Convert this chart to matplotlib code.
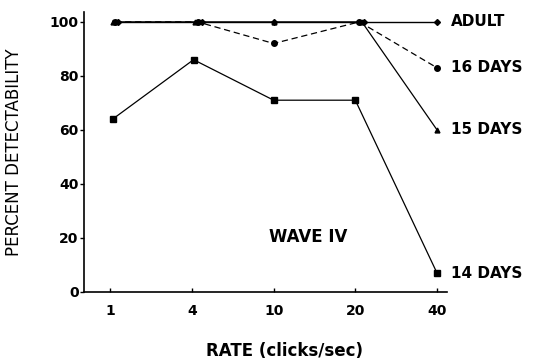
import matplotlib
matplotlib.use("Agg")
import matplotlib.pyplot as plt

plt.rcParams['font.family'] = ['DejaVu Sans']

rates = ["1", "4", "10", "20", "40"]
adult = [100, 100, 100, 100, 100]
days16 = [100, 100, 92, 100, 83]
days15 = [100, 100, 100, 100, 60]
days14 = [64, 86, 71, 71, 7]
labels = ["ADULT", "16 DAYS", "15 DAYS", "14 DAYS"]

fig = plt.figure(figsize=(5.39, 3.6), dpi=100)
ax = fig.add_axes([0.156, 0.189, 0.673, 0.778])

x = list(range(len(rates)))
# small horizontal offsets like in the hand-drawn original
xa = [i + d for i, d in zip(x, [0.1, 0.12, 0.0, 0.11, 0.0])]
x16 = [i + d for i, d in zip(x, [0.06, 0.07, 0.0, 0.05, 0.0])]
x15 = [i + d for i, d in zip(x, [0.03, 0.04, 0.0, 0.08, 0.0])]
x14 = [i + d for i, d in zip(x, [0.03, 0.02, 0.0, 0.0, 0.0])]

ax.plot(xa, adult, color='black', lw=1.0, marker='D', ms=3)
ax.plot(x16, days16, color='black', lw=0.9, ls=(0, (5, 3)), marker='o', ms=4)
ax.plot(x15, days15, color='black', lw=0.9, marker='^', ms=3.5)
ax.plot(x14, days14, color='black', lw=0.9, marker='s', ms=4.5)

ax.set_xlim(-0.32, 4.12)
ax.set_ylim(0, 103.7)
ax.set_xticks(x)
ax.set_xticklabels(rates, fontsize=10, fontweight='bold')
ax.set_yticks([0, 20, 40, 60, 80, 100])
ax.set_yticklabels(["0", "20", "40", "60", "80", "100"], fontsize=10, fontweight='bold')
ax.tick_params(axis='y', direction='out', length=3, width=1, pad=1)
ax.tick_params(axis='x', direction='in', length=3, width=1, pad=9)
ax.spines['top'].set_visible(False)
ax.spines['right'].set_visible(False)
ax.spines['left'].set_linewidth(1.2)
ax.spines['bottom'].set_linewidth(1.2)

for lab, yv in zip(labels, [adult[-1], days16[-1], days15[-1], days14[-1]]):
    ax.text(4.17, yv, lab, fontsize=11, fontweight='bold', va='center', ha='left',
            clip_on=False)

ax.text(2.42, 20.5, "WAVE IV", fontsize=12, fontweight='bold', ha='center', va='center')

ax.set_ylabel("PERCENT DETECTABILITY", fontsize=12, labelpad=19)
ax.set_xlabel("RATE (clicks/sec)", fontsize=12, fontweight='bold', labelpad=16)
ax.xaxis.set_label_coords(0.553, -0.18)

fig.savefig("out.png", dpi=100)
